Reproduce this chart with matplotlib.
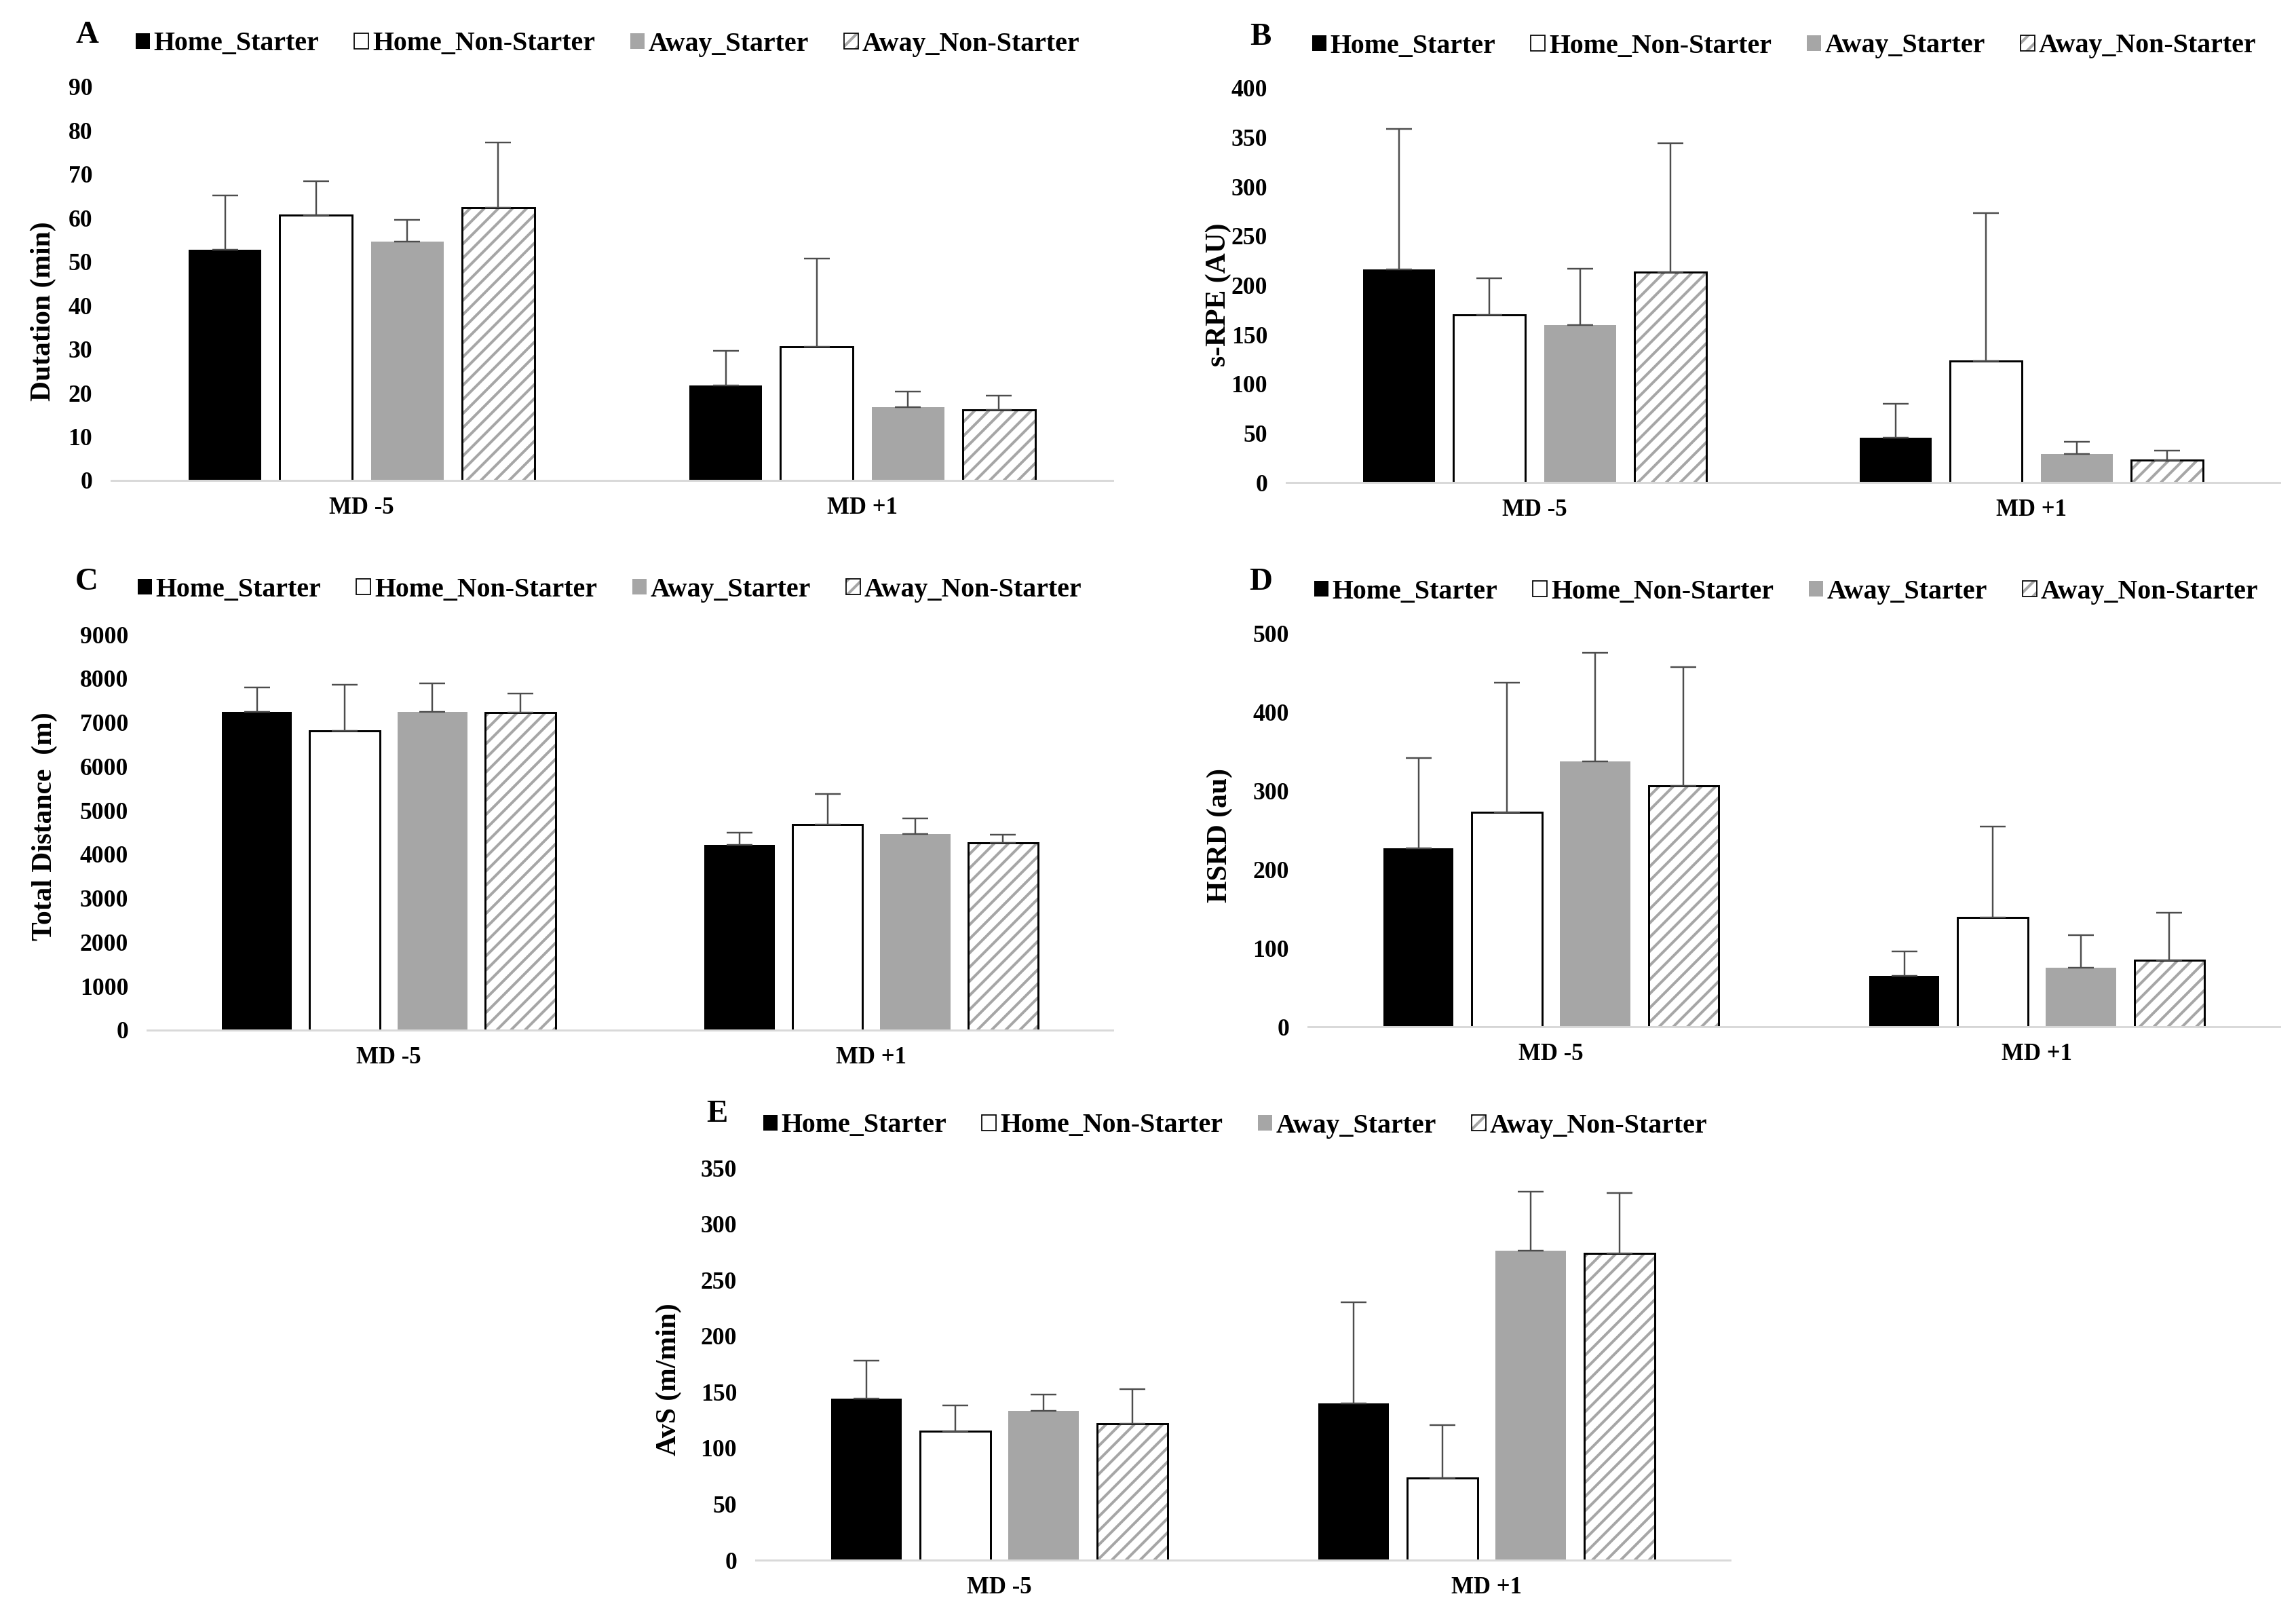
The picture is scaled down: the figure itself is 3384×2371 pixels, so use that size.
import numpy as np
import matplotlib
matplotlib.use("Agg")
import matplotlib.pyplot as plt
from matplotlib.patches import Patch

plt.rcParams['font.family'] = ['Liberation Serif', 'DejaVu Serif']
plt.rcParams['font.weight'] = 'bold'
plt.rcParams['hatch.linewidth'] = 2.3

# categories and groups
days = ['MD -5', 'MD +1']
groups = ['Home_Starter', 'Home_Non-Starter', 'Away_Starter', 'Away_Non-Starter']

# A - duration (min): mean / SD per group, [MD -5, MD +1]
dur_mean = [[52.7, 21.7], [60.6, 30.5], [54.6, 16.7], [62.4, 16.2]]
dur_sd = [[12.5, 7.9], [7.9, 20.3], [5.0, 3.7], [14.8, 3.2]]

# B - s-RPE (AU)
rpe_mean = [[216, 45.5], [170, 123], [160, 29], [213.5, 22.4]]
rpe_sd = [[143, 34.5], [37, 150], [57, 12], [131, 10.3]]

# C - total distance (m)
td_mean = [[7240, 4220], [6810, 4670], [7240, 4460], [7230, 4255]]
td_sd = [[560, 275], [1040, 700], [650, 350], [430, 195]]

# D - HSRD (au)
hsrd_mean = [[227, 64.6], [273, 139], [338, 75.3], [306.6, 84.7]]
hsrd_sd = [[115, 31], [165, 116], [138, 41], [151, 60]]

# E - AvS (m/min)
avs_mean = [[144, 140], [114.8, 73.2], [133, 276], [122, 273.8]]
avs_sd = [[34, 90.4], [23.5, 47], [14.5, 53], [30.7, 54]]

W, H = 3384, 2371
fig = plt.figure(figsize=(W / 125, H / 125), dpi=125)

GRAY = '#a6a6a6'
offsets = [-0.273, -0.091, 0.091, 0.273]
width = 0.145


def pix_axes(l, t, r, b):
    return fig.add_axes([l / W, 1 - b / H, (r - l) / W, (b - t) / H])


def draw_panel(box, means, sds, ymax, ystep, letter, letter_xy, ylab, ylab_xy, leg_xy):
    ax = pix_axes(*box)
    x = np.arange(len(days))
    for i in range(len(groups)):
        pos = x + offsets[i]
        m = np.array(means[i])
        if i == 0:
            ax.bar(pos, m, width, color='black', linewidth=0, zorder=2)
        elif i == 1:
            ax.bar(pos, m, width, color='white', edgecolor='black', linewidth=1.7, zorder=2)
        elif i == 2:
            ax.bar(pos, m, width, color=GRAY, linewidth=0, zorder=2)
        else:
            # hatch takes the edge colour, so draw gray hatch first, then black outline
            ax.bar(pos, m, width, color='white', edgecolor=GRAY, hatch='//', linewidth=0, zorder=2)
            ax.bar(pos, m, width, fill=False, edgecolor='black', linewidth=1.7, zorder=2)
        ax.errorbar(pos, m, yerr=[np.zeros(len(m)), sds[i]], fmt='none', ecolor='#4d4d4d',
                    elinewidth=1.4, capsize=11, capthick=1.4, zorder=3)

    ax.set_xlim(-0.5, 1.5)
    ax.set_ylim(0, ymax)
    ax.set_yticks(np.arange(0, ymax + ystep / 2, ystep))
    ax.set_xticks(x)
    ax.set_xticklabels(days)
    ax.tick_params(axis='y', length=0, pad=16, labelsize=20.5)
    ax.tick_params(axis='x', length=0, pad=14, labelsize=20)
    for s in ['left', 'right', 'top']:
        ax.spines[s].set_visible(False)
    ax.spines['bottom'].set_color('#d9d9d9')
    ax.spines['bottom'].set_linewidth(1.7)

    fig.text(letter_xy[0] / W, 1 - letter_xy[1] / H, letter, fontsize=27,
             fontweight='bold', ha='center', va='center')
    fig.text(ylab_xy[0] / W, 1 - ylab_xy[1] / H, ylab, fontsize=24, fontweight='bold',
             rotation=90, ha='center', va='center')

    handles = [Patch(facecolor='black', linewidth=0),
               Patch(facecolor='white', edgecolor='black', linewidth=1),
               Patch(facecolor=GRAY, linewidth=0),
               (Patch(facecolor='white', edgecolor=GRAY, hatch='//', linewidth=0),
                Patch(fill=False, edgecolor='black', linewidth=1))]
    ax.legend(handles, groups, ncol=4, frameon=False, fontsize=23,
              loc='center left', bbox_to_anchor=(leg_xy[0] / W, 1 - leg_xy[1] / H),
              bbox_transform=fig.transFigure, borderpad=0, borderaxespad=0,
              handlelength=0.52, handleheight=0.52, handletextpad=0.15,
              columnspacing=1.3)
    return ax


draw_panel((164, 128, 1640, 708), dur_mean, dur_sd, 90, 10, 'A', (128, 52),
           'Dutation (min)', (64, 459), (200, 65))
draw_panel((1896, 130, 3360, 711), rpe_mean, rpe_sd, 400, 50, 'B', (1858, 55),
           's-RPE (AU)', (1796, 434), (1934, 68))
draw_panel((217, 935, 1640, 1518), td_mean, td_sd, 9000, 1000, 'C', (128, 858),
           'Total Distance  (m)', (66, 1218), (203, 869))
draw_panel((1928, 934, 3360, 1513), hsrd_mean, hsrd_sd, 500, 100, 'D', (1858, 858),
           'HSRD (au)', (1798, 1231), (1937, 872))
draw_panel((1114, 1721, 2550, 2299), avs_mean, avs_sd, 350, 50, 'E', (1057, 1642),
           'AvS (m/min)', (986, 2033), (1125, 1659))

fig.savefig('out.png', dpi=125, facecolor='white')
